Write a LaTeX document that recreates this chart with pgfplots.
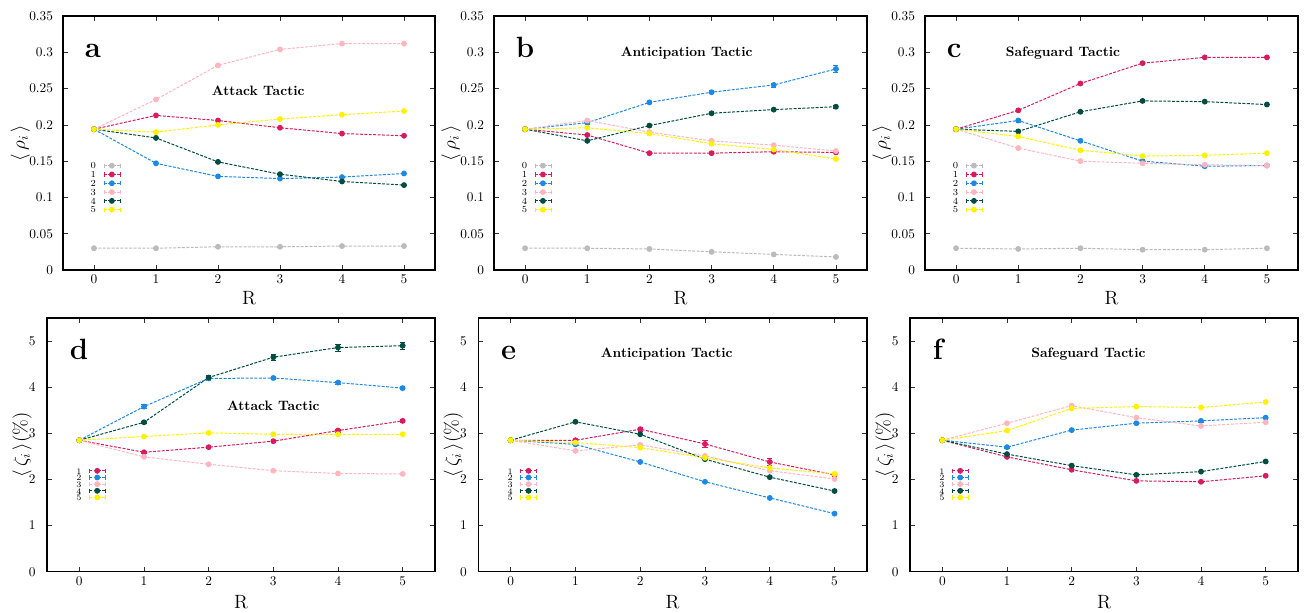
\documentclass[border=0pt]{standalone}
\usepackage{pgfplots}
\pgfplotsset{compat=1.18}

\definecolor{c0}{HTML}{BBBBBB}
\definecolor{c1}{HTML}{D81B60}
\definecolor{c2}{HTML}{1E88E5}
\definecolor{c3}{HTML}{FFB6C1}
\definecolor{c4}{HTML}{004D40}
\definecolor{c5}{HTML}{FFF200}

\pgfplotsset{
  panel/.style={
    scale only axis, anchor=south west,
    xmin=-0.5, xmax=5.5, xtick={0,...,5},
    tick pos=both, tick align=inside,
    major tick length=3.5pt,
    axis line style={line width=0.9pt},
    tick style={line width=0.5pt, black!80},
    ticklabel style={font=\normalsize},
    label style={font=\Large},
    xlabel={R},
    xlabel style={at={(axis description cs:0.5,0)}, anchor=center, yshift=-21pt},
    legend plot pos=right,
    legend cell align=right,
    legend image code/.code={
      \draw[mark repeat=2, mark phase=2, ##1] plot coordinates {(0pt,0pt) (6pt,0pt) (12pt,0pt)};
      \draw[##1, solid, mark=none, line width=0.5pt] (0pt,-1.6pt) -- (0pt,1.6pt) (12pt,-1.6pt) -- (12pt,1.6pt);
    },
    legend style={draw=none, fill=none, font=\fontsize{7}{7}\selectfont,
      inner sep=0pt, anchor=north west,
      nodes={inner sep=0.5pt, text height=4.8pt, text depth=0pt},
      /tikz/every odd column/.append style={column sep=5pt}},
  },
  toprow/.style={panel,
    ymin=0, ymax=0.35, ytick={0,0.05,...,0.35},
    scaled y ticks=false,
    yticklabel style={/pgf/number format/fixed, /pgf/number format/precision=2, xshift=-4pt},
    ylabel={$\langle\,\rho_i\,\rangle$},
    ylabel style={at={(axis description cs:-0.115,0.5)}, anchor=center},
    legend style={at={(rel axis cs:0.072,0.427)}, row sep=0.8pt},
  },
  botrow/.style={panel,
    ymin=0, ymax=5.5, ytick={0,...,5},
    yticklabel style={xshift=-5pt},
    xlabel style={yshift=-1.5pt},
    ylabel={$\langle\,\zeta_i\,\rangle(\%)$},
    ylabel style={at={(axis description cs:-0.064,0.5)}, anchor=center},
    legend style={at={(rel axis cs:0.073,0.414)}, row sep=-0.8pt,
      font=\fontsize{6.3}{6.3}\selectfont},
  },
  ser/.style={color=#1, line width=0.75pt, dash pattern=on 2.2pt off 1.1pt,
    mark=*, mark size=1.8pt, mark options={solid},
    error bars/.cd, y dir=both, y explicit,
    error bar style={solid, line width=0.6pt},
    error mark options={rotate=90, mark size=1.9pt, solid}},
}
\newcommand{\ser}[3]{\addplot[ser=#1] table[row sep=\\, y error index=2] {#2}; \addlegendentry{#3}}
\newcommand{\lbl}[1]{\node[font=\fontsize{22}{22}\bfseries\selectfont, anchor=base west, inner xsep=0pt] at (rel axis cs:0.058,0.835) {#1};}
\newcommand{\ttl}[2]{\node[font=\fontsize{10.2}{12}\bfseries\selectfont] at (axis cs:#1) {#2};}

\begin{document}
\begin{tikzpicture}
\path[use as bounding box] (0,0) rectangle (979.5pt,459pt);

% ---- a
\begin{axis}[toprow, at={(47.25pt,256.5pt)}, width=279pt, height=190.5pt]
\ser{c0}{0 0.030 0\\1 0.030 0\\2 0.032 0\\3 0.032 0\\4 0.033 0\\5 0.033 0\\}{0}
\ser{c1}{0 0.194 0\\1 0.213 0\\2 0.206 0\\3 0.196 0\\4 0.188 0\\5 0.185 0\\}{1}
\ser{c2}{0 0.194 0\\1 0.147 0\\2 0.129 0\\3 0.126 0\\4 0.128 0\\5 0.133 0\\}{2}
\ser{c3}{0 0.194 0\\1 0.235 0\\2 0.282 0\\3 0.304 0\\4 0.312 0\\5 0.312 0\\}{3}
\ser{c4}{0 0.194 0\\1 0.182 0\\2 0.149 0\\3 0.132 0\\4 0.122 0\\5 0.117 0\\}{4}
\ser{c5}{0 0.194 0\\1 0.190 0\\2 0.200 0\\3 0.208 0\\4 0.214 0\\5 0.219 0\\}{5}
\ttl{2.65,0.247}{Attack Tactic}
\lbl{a}
\end{axis}

% ---- b
\begin{axis}[toprow, at={(370.5pt,256.5pt)}, width=279.75pt, height=190.5pt]
\ser{c0}{0 0.030 0\\1 0.030 0\\2 0.029 0\\3 0.025 0\\4 0.0215 0\\5 0.018 0\\}{0}
\ser{c1}{0 0.194 0\\1 0.186 0\\2 0.161 0\\3 0.161 0\\4 0.163 0\\5 0.162 0\\}{1}
\ser{c2}{0 0.194 0\\1 0.203 0.002\\2 0.231 0.001\\3 0.245 0.002\\4 0.255 0.003\\5 0.277 0.005\\}{2}
\ser{c3}{0 0.194 0\\1 0.206 0\\2 0.190 0\\3 0.178 0\\4 0.172 0\\5 0.164 0\\}{3}
\ser{c4}{0 0.194 0\\1 0.178 0\\2 0.199 0\\3 0.216 0\\4 0.221 0.001\\5 0.225 0.002\\}{4}
\ser{c5}{0 0.194 0\\1 0.196 0\\2 0.188 0\\3 0.174 0\\4 0.166 0\\5 0.153 0\\}{5}
\ttl{2.6,0.2995}{Anticipation Tactic}
\lbl{b}
\end{axis}

% ---- c
\begin{axis}[toprow, at={(693.75pt,256.5pt)}, width=279.75pt, height=190.5pt]
\ser{c0}{0 0.030 0\\1 0.029 0\\2 0.030 0\\3 0.028 0\\4 0.028 0\\5 0.030 0\\}{0}
\ser{c1}{0 0.194 0\\1 0.220 0\\2 0.257 0\\3 0.285 0\\4 0.293 0\\5 0.293 0\\}{1}
\ser{c2}{0 0.194 0\\1 0.206 0.002\\2 0.178 0\\3 0.150 0\\4 0.143 0\\5 0.144 0\\}{2}
\ser{c3}{0 0.194 0\\1 0.168 0\\2 0.150 0\\3 0.147 0\\4 0.145 0\\5 0.144 0\\}{3}
\ser{c4}{0 0.194 0\\1 0.191 0\\2 0.218 0\\3 0.233 0\\4 0.232 0\\5 0.228 0\\}{4}
\ser{c5}{0 0.194 0\\1 0.184 0\\2 0.165 0\\3 0.157 0\\4 0.158 0\\5 0.161 0\\}{5}
\ttl{1.72,0.2995}{Safeguard Tactic}
\lbl{c}
\end{axis}

% ---- d
\begin{axis}[botrow, at={(35.25pt,30.2pt)}, width=291pt, height=190.3pt]
\ser{c1}{0 2.85 0\\1 2.59 0.03\\2 2.70 0.03\\3 2.83 0.03\\4 3.06 0.03\\5 3.27 0.03\\}{1}
\ser{c2}{0 2.85 0\\1 3.58 0.04\\2 4.19 0.03\\3 4.20 0.03\\4 4.10 0.03\\5 3.98 0.03\\}{2}
\ser{c3}{0 2.85 0\\1 2.49 0\\2 2.33 0\\3 2.19 0\\4 2.13 0\\5 2.12 0\\}{3}
\ser{c4}{0 2.85 0\\1 3.24 0.03\\2 4.21 0.04\\3 4.65 0.06\\4 4.86 0.08\\5 4.90 0.08\\}{4}
\ser{c5}{0 2.85 0\\1 2.93 0\\2 3.01 0\\3 2.98 0\\4 2.98 0\\5 2.98 0\\}{5}
\ttl{3.0,3.59}{Attack Tactic}
\lbl{d}
\end{axis}

% ---- e
\begin{axis}[botrow, at={(358.7pt,30.2pt)}, width=291.5pt, height=190.3pt]
\ser{c1}{0 2.85 0\\1 2.85 0.03\\2 3.09 0.04\\3 2.77 0.07\\4 2.38 0.07\\5 2.10 0.03\\}{1}
\ser{c2}{0 2.85 0\\1 2.76 0\\2 2.38 0\\3 1.95 0\\4 1.60 0\\5 1.26 0\\}{2}
\ser{c3}{0 2.85 0\\1 2.62 0\\2 2.75 0\\3 2.51 0\\4 2.19 0\\5 2.01 0\\}{3}
\ser{c4}{0 2.85 0\\1 3.25 0\\2 2.98 0\\3 2.44 0\\4 2.05 0\\5 1.75 0\\}{4}
\ser{c5}{0 2.85 0\\1 2.80 0\\2 2.69 0\\3 2.47 0\\4 2.25 0\\5 2.12 0\\}{5}
\ttl{2.41,4.71}{Anticipation Tactic}
\lbl{e}
\end{axis}

% ---- f
\begin{axis}[botrow, at={(682.5pt,30.2pt)}, width=291pt, height=190.3pt]
\ser{c1}{0 2.85 0\\1 2.49 0\\2 2.21 0\\3 1.97 0\\4 1.95 0\\5 2.08 0\\}{1}
\ser{c2}{0 2.85 0\\1 2.70 0.02\\2 3.07 0\\3 3.22 0.02\\4 3.27 0.02\\5 3.34 0.02\\}{2}
\ser{c3}{0 2.85 0\\1 3.22 0\\2 3.60 0\\3 3.34 0\\4 3.16 0\\5 3.24 0\\}{3}
\ser{c4}{0 2.85 0\\1 2.55 0\\2 2.30 0\\3 2.10 0\\4 2.17 0\\5 2.39 0\\}{4}
\ser{c5}{0 2.85 0\\1 3.06 0\\2 3.54 0\\3 3.58 0\\4 3.56 0\\5 3.68 0\\}{5}
\ttl{2.26,4.71}{Safeguard Tactic}
\lbl{f}
\end{axis}
\end{tikzpicture}
\end{document}
